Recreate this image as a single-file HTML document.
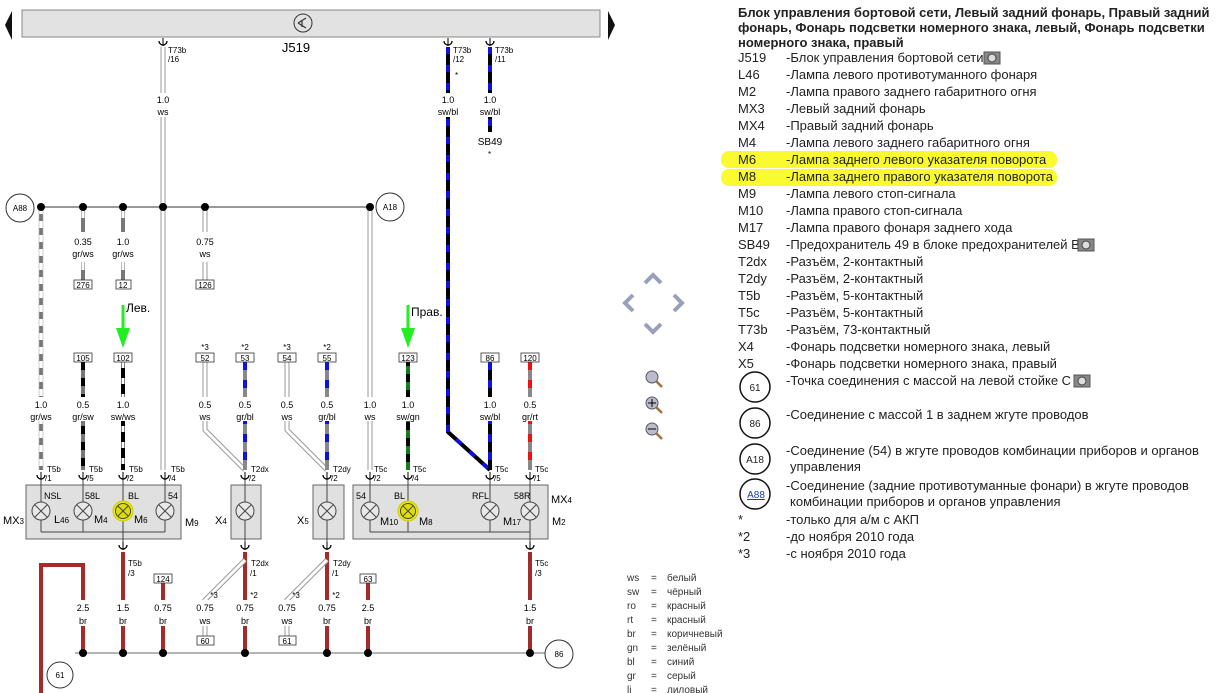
<!DOCTYPE html>
<html><head><meta charset="utf-8"><style>
html,body{margin:0;padding:0;background:#fff;}
svg{display:block;font-family:"Liberation Sans",Arial,sans-serif;}
.s{font-size:9px;fill:#000;text-anchor:middle}
.t{font-size:8px;fill:#000}
.lg{font-size:13px;fill:#222}
.c{font-size:10px;fill:#333}
</style></head><body>
<svg width="1224" height="693" viewBox="0 0 1224 693" xmlns="http://www.w3.org/2000/svg">
<defs>
<g id="lamp"><circle r="9" fill="#e8e8e8" stroke="#444" stroke-width="1"/><path d="M-6,-6L6,6M-6,6L6,-6" stroke="#444" stroke-width="1"/></g>
<g id="lampy"><circle r="10" fill="#e8e816" stroke="#cc0" stroke-width="1"/><circle r="7.5" fill="#dede00" stroke="#444" stroke-width="1"/><path d="M-5,-5L5,5M-5,5L5,-5" stroke="#444" stroke-width="1"/></g>
<g id="con"><path d="M-4,-3 A4,4 0 0 0 4,-3" fill="none" stroke="#000" stroke-width="1.3"/><line x1="0" y1="-6" x2="0" y2="2" stroke="#000" stroke-width="1"/></g>
</defs>

<!-- top bar -->
<rect x="22" y="10" width="578" height="27" fill="#e2e2e2" stroke="#888"/>
<circle cx="303" cy="23" r="9" fill="none" stroke="#333"/>
<path d="M298,23 L306,18 M298,23 L306,28 M302,20 L302,27" stroke="#333" stroke-width="1.2" fill="none"/>
<polygon points="12,11 12,40 5,25" fill="#111"/>
<polygon points="608,11 608,40 615,25" fill="#111"/>
<text x="296" y="52" font-size="13" fill="#000" text-anchor="middle">J519</text>

<!-- connectors on top -->
<use href="#con" x="163" y="44"/><text class="t" x="168" y="53">T73b</text><text class="t" x="168" y="62">/16</text>
<use href="#con" x="448" y="44"/><text class="t" x="453" y="53">T73b</text><text class="t" x="453" y="62">/12</text>
<use href="#con" x="490" y="44"/><text class="t" x="495" y="53">T73b</text><text class="t" x="495" y="62">/11</text>
<text class="t" x="455" y="78">*</text>

<!-- ws wire x=163 full -->
<line x1="163" y1="47" x2="163" y2="470" stroke="#999" stroke-width="5"/>
<line x1="163" y1="47" x2="163" y2="470" stroke="#fff" stroke-width="3"/>
<rect x="150" y="93" width="26" height="24" fill="#fff"/>
<text class="s" x="163" y="103">1.0</text><text class="s" x="163" y="115">ws</text>

<!-- sw/bl main -->
<polyline points="448,47 448,432 490,470" fill="none" stroke="#000" stroke-width="4"/>
<polyline points="448,47 448,432 490,470" fill="none" stroke="#1010e0" stroke-width="4" stroke-dasharray="7 11"/>
<rect x="434" y="93" width="28" height="24" fill="#fff"/>
<text class="s" x="448" y="103">1.0</text><text class="s" x="448" y="115">sw/bl</text>
<line x1="490" y1="47" x2="490" y2="132" stroke="#000" stroke-width="4"/>
<line x1="490" y1="47" x2="490" y2="132" stroke="#1010e0" stroke-width="4" stroke-dasharray="7 11"/>
<rect x="476" y="93" width="28" height="24" fill="#fff"/>
<text class="s" x="490" y="103">1.0</text><text class="s" x="490" y="115">sw/bl</text>
<text x="490" y="145" font-size="10" text-anchor="middle">SB49</text><text class="t" x="488" y="157">*</text>

<!-- bus -->
<line x1="41" y1="207" x2="370" y2="207" stroke="#333" stroke-width="1"/>
<circle cx="20" cy="208" r="14" fill="#fff" stroke="#333"/><text class="t" x="20" y="211" text-anchor="middle">A88</text>
<circle cx="390" cy="207" r="14" fill="#fff" stroke="#333"/><text class="t" x="390" y="210" text-anchor="middle">A18</text>

<!-- x=41 gr/ws -->
<line x1="41" y1="207" x2="41" y2="470" stroke="#777" stroke-width="4"/>
<line x1="41" y1="207" x2="41" y2="470" stroke="#fff" stroke-width="4" stroke-dasharray="7 7"/>
<line x1="39" y1="207" x2="39" y2="470" stroke="#aaa" stroke-width="0.6"/><line x1="43" y1="207" x2="43" y2="470" stroke="#aaa" stroke-width="0.6"/>
<rect x="26" y="397" width="30" height="24" fill="#fff"/>
<text class="s" x="41" y="408">1.0</text><text class="s" x="41" y="420">gr/ws</text>

<!-- x=83 -->
<line x1="83" y1="207" x2="83" y2="232" stroke="#777" stroke-width="4"/><line x1="83" y1="207" x2="83" y2="218" stroke="#fff" stroke-width="3"/>
<text class="s" x="83" y="245">0.35</text><text class="s" x="83" y="257">gr/ws</text>
<line x1="83" y1="262" x2="83" y2="280" stroke="#777" stroke-width="4"/><line x1="83" y1="262" x2="83" y2="270" stroke="#fff" stroke-width="3"/>
<rect x="74" y="280" width="18" height="9" fill="#fff" stroke="#333" stroke-width="0.8"/><text class="t" x="83" y="288" text-anchor="middle">276</text>
<!-- x=123 -->
<line x1="123" y1="207" x2="123" y2="232" stroke="#777" stroke-width="4"/><line x1="123" y1="207" x2="123" y2="218" stroke="#fff" stroke-width="3"/>
<text class="s" x="123" y="245">1.0</text><text class="s" x="123" y="257">gr/ws</text>
<line x1="123" y1="262" x2="123" y2="280" stroke="#777" stroke-width="4"/><line x1="123" y1="262" x2="123" y2="270" stroke="#fff" stroke-width="3"/>
<rect x="116" y="280" width="15" height="9" fill="#fff" stroke="#333" stroke-width="0.8"/><text class="t" x="123" y="288" text-anchor="middle">12</text>
<!-- x=205 top -->
<line x1="205" y1="207" x2="205" y2="232" stroke="#999" stroke-width="5"/><line x1="205" y1="207" x2="205" y2="232" stroke="#fff" stroke-width="3"/>
<text class="s" x="205" y="245">0.75</text><text class="s" x="205" y="257">ws</text>
<line x1="205" y1="262" x2="205" y2="280" stroke="#999" stroke-width="5"/><line x1="205" y1="262" x2="205" y2="280" stroke="#fff" stroke-width="3"/>
<rect x="196" y="280" width="18" height="9" fill="#fff" stroke="#333" stroke-width="0.8"/><text class="t" x="205" y="288" text-anchor="middle">126</text>
<!-- x=370 -->
<line x1="370" y1="207" x2="370" y2="470" stroke="#999" stroke-width="5"/><line x1="370" y1="207" x2="370" y2="470" stroke="#fff" stroke-width="3"/>
<rect x="356" y="397" width="28" height="24" fill="#fff"/>
<text class="s" x="370" y="408">1.0</text><text class="s" x="370" y="420">ws</text>

<g fill="#000"><circle cx="41" cy="207" r="4"/><circle cx="83" cy="207" r="4"/><circle cx="123" cy="207" r="4"/><circle cx="163" cy="207" r="4"/><circle cx="205" cy="207" r="4"/><circle cx="370" cy="207" r="4"/></g>

<!-- green arrows -->
<line x1="123" y1="305" x2="123" y2="330" stroke="#22ee22" stroke-width="3"/><polygon points="116,328 130,328 123,348" fill="#22ee22"/>
<text x="126" y="312" font-size="12">Лев.</text>
<line x1="408" y1="305" x2="408" y2="330" stroke="#22ee22" stroke-width="3"/><polygon points="401,328 415,328 408,348" fill="#22ee22"/>
<text x="411" y="316" font-size="12">Прав.</text>

<!-- mid wires -->
<!-- 83 gr/sw -->
<line x1="83" y1="362" x2="83" y2="470" stroke="#777" stroke-width="4"/><line x1="83" y1="362" x2="83" y2="470" stroke="#000" stroke-width="4" stroke-dasharray="8 8"/>
<!-- 123 sw/ws -->
<line x1="123" y1="362" x2="123" y2="470" stroke="#000" stroke-width="4"/><line x1="123" y1="362" x2="123" y2="470" stroke="#fff" stroke-width="3" stroke-dasharray="6 10"/>
<!-- 205 ws diag -->
<polyline points="205,362 205,430 245,470" fill="none" stroke="#999" stroke-width="5"/><polyline points="205,362 205,430 245,470" fill="none" stroke="#fff" stroke-width="3"/>
<polyline points="287,362 287,430 327,470" fill="none" stroke="#999" stroke-width="5"/><polyline points="287,362 287,430 327,470" fill="none" stroke="#fff" stroke-width="3"/>
<!-- 245 gr/bl -->
<line x1="245" y1="362" x2="245" y2="470" stroke="#888" stroke-width="4"/><line x1="245" y1="362" x2="245" y2="470" stroke="#1010e0" stroke-width="4" stroke-dasharray="8 10"/>
<line x1="327" y1="362" x2="327" y2="470" stroke="#888" stroke-width="4"/><line x1="327" y1="362" x2="327" y2="470" stroke="#1010e0" stroke-width="4" stroke-dasharray="8 10"/>
<!-- 408 sw/gn -->
<line x1="408" y1="362" x2="408" y2="470" stroke="#000" stroke-width="4"/><line x1="408" y1="362" x2="408" y2="470" stroke="#1a7a1a" stroke-width="4" stroke-dasharray="8 8" stroke-dashoffset="-4"/>
<!-- 490 sw/bl -->
<line x1="490" y1="362" x2="490" y2="470" stroke="#000" stroke-width="4"/><line x1="490" y1="362" x2="490" y2="470" stroke="#1010e0" stroke-width="4" stroke-dasharray="8 10"/>
<!-- 530 gr/rt -->
<line x1="530" y1="362" x2="530" y2="470" stroke="#888" stroke-width="4"/><line x1="530" y1="362" x2="530" y2="470" stroke="#f01010" stroke-width="4" stroke-dasharray="8 10"/>

<!-- mid label backgrounds & labels -->
<g fill="#fff">
<rect x="68" y="397" width="30" height="24"/><rect x="108" y="397" width="30" height="24"/><rect x="192" y="397" width="26" height="24"/><rect x="232" y="397" width="26" height="24"/><rect x="274" y="397" width="26" height="24"/><rect x="314" y="397" width="26" height="24"/><rect x="393" y="397" width="30" height="24"/><rect x="475" y="397" width="30" height="24"/><rect x="516" y="397" width="28" height="24"/>
</g>
<text class="s" x="83" y="408">0.5</text><text class="s" x="83" y="420">gr/sw</text>
<text class="s" x="123" y="408">1.0</text><text class="s" x="123" y="420">sw/ws</text>
<text class="s" x="205" y="408">0.5</text><text class="s" x="205" y="420">ws</text>
<text class="s" x="245" y="408">0.5</text><text class="s" x="245" y="420">gr/bl</text>
<text class="s" x="287" y="408">0.5</text><text class="s" x="287" y="420">ws</text>
<text class="s" x="327" y="408">0.5</text><text class="s" x="327" y="420">gr/bl</text>
<text class="s" x="408" y="408">1.0</text><text class="s" x="408" y="420">sw/gn</text>
<text class="s" x="490" y="408">1.0</text><text class="s" x="490" y="420">sw/bl</text>
<text class="s" x="530" y="408">0.5</text><text class="s" x="530" y="420">gr/rt</text>

<!-- numbered boxes mid -->
<g font-size="8" text-anchor="middle">
<rect x="74" y="353" width="18" height="9" fill="#fff" stroke="#333" stroke-width="0.8"/><text x="83" y="361">105</text>
<rect x="114" y="353" width="18" height="9" fill="#fff" stroke="#333" stroke-width="0.8"/><text x="123" y="361">102</text>
<rect x="196" y="353" width="18" height="9" fill="#fff" stroke="#333" stroke-width="0.8"/><text x="205" y="361">52</text>
<rect x="236" y="353" width="18" height="9" fill="#fff" stroke="#333" stroke-width="0.8"/><text x="245" y="361">53</text>
<rect x="278" y="353" width="18" height="9" fill="#fff" stroke="#333" stroke-width="0.8"/><text x="287" y="361">54</text>
<rect x="318" y="353" width="18" height="9" fill="#fff" stroke="#333" stroke-width="0.8"/><text x="327" y="361">55</text>
<rect x="399" y="353" width="18" height="9" fill="#fff" stroke="#333" stroke-width="0.8"/><text x="408" y="361">123</text>
<rect x="481" y="353" width="18" height="9" fill="#fff" stroke="#333" stroke-width="0.8"/><text x="490" y="361">86</text>
<rect x="521" y="353" width="18" height="9" fill="#fff" stroke="#333" stroke-width="0.8"/><text x="530" y="361">120</text>
<text x="205" y="350">*3</text><text x="245" y="350">*2</text><text x="287" y="350">*3</text><text x="327" y="350">*2</text>
</g>

<!-- boxes -->
<rect x="26" y="485" width="155" height="54" fill="#e0e0e0" stroke="#666"/>
<rect x="231" y="485" width="30" height="54" fill="#e0e0e0" stroke="#666"/>
<rect x="313" y="485" width="31" height="54" fill="#e0e0e0" stroke="#666"/>
<rect x="353" y="485" width="195" height="54" fill="#e0e0e0" stroke="#666"/>
<g stroke="#444" stroke-width="1">
<line x1="41" y1="532" x2="165" y2="532"/><line x1="370" y1="532" x2="530" y2="532"/>
<line x1="41" y1="478" x2="41" y2="532"/><line x1="83" y1="478" x2="83" y2="532"/><line x1="123" y1="478" x2="123" y2="545"/><line x1="165" y1="478" x2="165" y2="532"/>
<line x1="245" y1="478" x2="245" y2="545"/><line x1="327" y1="478" x2="327" y2="545"/>
<line x1="370" y1="478" x2="370" y2="532"/><line x1="408" y1="478" x2="408" y2="532"/><line x1="490" y1="478" x2="490" y2="532"/><line x1="530" y1="478" x2="530" y2="545"/>
</g>
<use href="#lamp" x="41" y="511"/><use href="#lamp" x="83" y="511"/><use href="#lampy" x="123" y="511"/><use href="#lamp" x="165" y="511"/>
<use href="#lamp" x="245" y="511"/><use href="#lamp" x="327" y="511"/>
<use href="#lamp" x="370" y="511"/><use href="#lampy" x="408" y="511"/><use href="#lamp" x="490" y="511"/><use href="#lamp" x="530" y="511"/>
<g font-size="9">
<text x="44" y="499">NSL</text><text x="85" y="499">58L</text><text x="128" y="499">BL</text><text x="168" y="499">54</text>
<text x="54" y="523" font-size="11">L<tspan font-size="8">46</tspan></text><text x="94" y="523" font-size="11">M<tspan font-size="8">4</tspan></text><text x="134" y="523" font-size="11">M<tspan font-size="8">6</tspan></text><text x="185" y="526" font-size="11">M<tspan font-size="8">9</tspan></text>
<text x="3" y="524" font-size="11">MX<tspan font-size="8">3</tspan></text>
<text x="215" y="524" font-size="11">X<tspan font-size="8">4</tspan></text>
<text x="297" y="524" font-size="11">X<tspan font-size="8">5</tspan></text>
<text x="356" y="499">54</text><text x="394" y="499">BL</text><text x="472" y="499">RFL</text><text x="514" y="499">58R</text>
<text x="551" y="503" font-size="11">MX<tspan font-size="8">4</tspan></text>
<text x="380" y="525" font-size="11">M<tspan font-size="8">10</tspan></text><text x="419" y="525" font-size="11">M<tspan font-size="8">8</tspan></text><text x="503" y="525" font-size="11">M<tspan font-size="8">17</tspan></text><text x="552" y="525" font-size="11">M<tspan font-size="8">2</tspan></text>
</g>

<!-- connectors at box top -->
<g>
<use href="#con" x="41" y="478"/><use href="#con" x="83" y="478"/><use href="#con" x="123" y="478"/><use href="#con" x="165" y="478"/>
<use href="#con" x="245" y="478"/><use href="#con" x="327" y="478"/>
<use href="#con" x="370" y="478"/><use href="#con" x="408" y="478"/><use href="#con" x="490" y="478"/><use href="#con" x="530" y="478"/>
<use href="#con" x="123" y="548"/><use href="#con" x="245" y="548"/><use href="#con" x="327" y="548"/><use href="#con" x="530" y="548"/>
</g>
<g class="t" font-size="7.5">
<text x="47" y="472">T5b</text><text x="45" y="481">/1</text>
<text x="89" y="472">T5b</text><text x="87" y="481">/5</text>
<text x="129" y="472">T5b</text><text x="127" y="481">/2</text>
<text x="171" y="472">T5b</text><text x="169" y="481">/4</text>
<text x="251" y="472">T2dx</text><text x="249" y="481">/2</text>
<text x="333" y="472">T2dy</text><text x="331" y="481">/2</text>
<text x="374" y="472">T5c</text><text x="374" y="481">/2</text>
<text x="413" y="472">T5c</text><text x="412" y="481">/4</text>
<text x="495" y="472">T5c</text><text x="494" y="481">/5</text>
<text x="535" y="472">T5c</text><text x="534" y="481">/1</text>
<text x="128" y="566">T5b</text><text x="128" y="576">/3</text>
<text x="251" y="566">T2dx</text><text x="250" y="576">/1</text>
<text x="333" y="566">T2dy</text><text x="332" y="576">/1</text>
<text x="535" y="566">T5c</text><text x="535" y="576">/3</text>
</g>

<!-- bottom wires -->
<g stroke="#a52a2a" stroke-width="4" fill="none">
<polyline points="41,693 41,565 83,565 83,653"/>
<line x1="123" y1="552" x2="123" y2="653"/>
<line x1="163" y1="583" x2="163" y2="653"/>
<line x1="245" y1="552" x2="245" y2="653"/>
<line x1="327" y1="552" x2="327" y2="653"/>
<line x1="368" y1="583" x2="368" y2="653"/>
<line x1="530" y1="552" x2="530" y2="653"/>
</g>
<polyline points="245,560 205,600 205,636" fill="none" stroke="#999" stroke-width="5"/><polyline points="245,560 205,600 205,636" fill="none" stroke="#fff" stroke-width="3"/>
<polyline points="327,560 287,600 287,636" fill="none" stroke="#999" stroke-width="5"/><polyline points="327,560 287,600 287,636" fill="none" stroke="#fff" stroke-width="3"/>
<g fill="#fff">
<rect x="70" y="600" width="26" height="26"/><rect x="110" y="600" width="26" height="26"/><rect x="150" y="600" width="26" height="26"/><rect x="192" y="600" width="26" height="26"/><rect x="232" y="600" width="26" height="26"/><rect x="274" y="600" width="26" height="26"/><rect x="314" y="600" width="26" height="26"/><rect x="355" y="600" width="26" height="26"/><rect x="517" y="600" width="26" height="26"/>
</g>
<g class="s">
<text x="83" y="611" class="s">2.5</text><text x="83" y="624" class="s">br</text>
<text x="123" y="611" class="s">1.5</text><text x="123" y="624" class="s">br</text>
<text x="163" y="611" class="s">0.75</text><text x="163" y="624" class="s">br</text>
<text x="205" y="611" class="s">0.75</text><text x="205" y="624" class="s">ws</text>
<text x="245" y="611" class="s">0.75</text><text x="245" y="624" class="s">br</text>
<text x="287" y="611" class="s">0.75</text><text x="287" y="624" class="s">ws</text>
<text x="327" y="611" class="s">0.75</text><text x="327" y="624" class="s">br</text>
<text x="368" y="611" class="s">2.5</text><text x="368" y="624" class="s">br</text>
<text x="530" y="611" class="s">1.5</text><text x="530" y="624" class="s">br</text>
</g>
<g font-size="8" text-anchor="middle">
<rect x="154" y="574" width="18" height="9" fill="#fff" stroke="#333" stroke-width="0.8"/><text x="163" y="582">124</text>
<rect x="360" y="574" width="16" height="9" fill="#fff" stroke="#333" stroke-width="0.8"/><text x="368" y="582">63</text>
<rect x="197" y="636" width="17" height="9" fill="#fff" stroke="#333" stroke-width="0.8"/><text x="205" y="644">60</text>
<rect x="279" y="636" width="17" height="9" fill="#fff" stroke="#333" stroke-width="0.8"/><text x="287" y="644">61</text>
<text x="214" y="598">*3</text><text x="254" y="598">*2</text><text x="296" y="598">*3</text><text x="336" y="598">*2</text>
</g>
<line x1="75" y1="653" x2="545" y2="653" stroke="#888" stroke-width="1.2"/>
<g fill="#000"><circle cx="83" cy="653" r="4"/><circle cx="123" cy="653" r="4"/><circle cx="163" cy="653" r="4"/><circle cx="245" cy="653" r="4"/><circle cx="327" cy="653" r="4"/><circle cx="368" cy="653" r="4"/><circle cx="530" cy="653" r="4"/></g>
<circle cx="559" cy="654" r="14" fill="#fff" stroke="#333"/><text class="t" x="559" y="657" text-anchor="middle">86</text>
<circle cx="60" cy="675" r="13" fill="#fff" stroke="#333"/><text class="t" x="60" y="678" text-anchor="middle">61</text>

<!-- nav icons -->
<g fill="none" stroke="#9aa0bb" stroke-width="4" stroke-linecap="butt">
<polyline points="645,283 653,275 661,283"/>
<polyline points="633,295 625,303 633,311"/>
<polyline points="674,295 682,303 674,311"/>
<polyline points="645,324 653,332 661,324"/>
</g>
<g>
<circle cx="652" cy="377" r="6" fill="#bbc" stroke="#556" stroke-width="1"/><line x1="656" y1="381" x2="662" y2="387" stroke="#a07040" stroke-width="2.5"/>
<circle cx="652" cy="403" r="6" fill="#bbc" stroke="#556" stroke-width="1"/><line x1="656" y1="407" x2="662" y2="413" stroke="#a07040" stroke-width="2.5"/><path d="M648,403h8M652,399v8" stroke="#000" stroke-width="1"/>
<circle cx="652" cy="429" r="6" fill="#bbc" stroke="#556" stroke-width="1"/><line x1="656" y1="433" x2="662" y2="439" stroke="#a07040" stroke-width="2.5"/><path d="M648,429h8" stroke="#000" stroke-width="1"/>
</g>

<!-- color legend -->
<g class="c">
<text x="627" y="581">ws</text><text x="651" y="581">=</text><text x="667" y="581">белый</text>
<text x="627" y="595">sw</text><text x="651" y="595">=</text><text x="667" y="595">чёрный</text>
<text x="627" y="609">ro</text><text x="651" y="609">=</text><text x="667" y="609">красный</text>
<text x="627" y="623">rt</text><text x="651" y="623">=</text><text x="667" y="623">красный</text>
<text x="627" y="637">br</text><text x="651" y="637">=</text><text x="667" y="637">коричневый</text>
<text x="627" y="651">gn</text><text x="651" y="651">=</text><text x="667" y="651">зелёный</text>
<text x="627" y="665">bl</text><text x="651" y="665">=</text><text x="667" y="665">синий</text>
<text x="627" y="679">gr</text><text x="651" y="679">=</text><text x="667" y="679">серый</text>
<text x="627" y="693">li</text><text x="651" y="693">=</text><text x="667" y="693">лиловый</text>
</g>

<!-- legend -->
<rect x="721" y="151" width="336" height="17" rx="8" fill="#fafa30"/>
<rect x="721" y="169" width="336" height="17" rx="8" fill="#fafa30"/>
<g font-size="13" font-weight="bold" fill="#222">
<text x="738" y="17">Блок управления бортовой сети, Левый задний фонарь, Правый задний</text>
<text x="738" y="32">фонарь, Фонарь подсветки номерного знака, левый, Фонарь подсветки</text>
<text x="738" y="47">номерного знака, правый</text>
</g>
<g class="lg">
<text x="738" y="62">J519</text><text x="786" y="62">-Блок управления бортовой сети</text>
<text x="738" y="79">L46</text><text x="786" y="79">-Лампа левого противотуманного фонаря</text>
<text x="738" y="96">M2</text><text x="786" y="96">-Лампа правого заднего габаритного огня</text>
<text x="738" y="113">MX3</text><text x="786" y="113">-Левый задний фонарь</text>
<text x="738" y="130">MX4</text><text x="786" y="130">-Правый задний фонарь</text>
<text x="738" y="147">M4</text><text x="786" y="147">-Лампа левого заднего габаритного огня</text>
<text x="738" y="164">M6</text><text x="786" y="164">-Лампа заднего левого указателя поворота</text>
<text x="738" y="181">M8</text><text x="786" y="181">-Лампа заднего правого указателя поворота</text>
<text x="738" y="198">M9</text><text x="786" y="198">-Лампа левого стоп-сигнала</text>
<text x="738" y="215">M10</text><text x="786" y="215">-Лампа правого стоп-сигнала</text>
<text x="738" y="232">M17</text><text x="786" y="232">-Лампа правого фонаря заднего хода</text>
<text x="738" y="249">SB49</text><text x="786" y="249">-Предохранитель 49 в блоке предохранителей B</text>
<text x="738" y="266">T2dx</text><text x="786" y="266">-Разъём, 2-контактный</text>
<text x="738" y="283">T2dy</text><text x="786" y="283">-Разъём, 2-контактный</text>
<text x="738" y="300">T5b</text><text x="786" y="300">-Разъём, 5-контактный</text>
<text x="738" y="317">T5c</text><text x="786" y="317">-Разъём, 5-контактный</text>
<text x="738" y="334">T73b</text><text x="786" y="334">-Разъём, 73-контактный</text>
<text x="738" y="351">X4</text><text x="786" y="351">-Фонарь подсветки номерного знака, левый</text>
<text x="738" y="368">X5</text><text x="786" y="368">-Фонарь подсветки номерного знака, правый</text>
<text x="786" y="385">-Точка соединения с массой на левой стойке C</text>
<text x="786" y="419">-Соединение с массой 1 в заднем жгуте проводов</text>
<text x="786" y="455">-Соединение (54) в жгуте проводов комбинации приборов и органов</text>
<text x="790" y="471">управления</text>
<text x="786" y="490">-Соединение (задние противотуманные фонари) в жгуте проводов</text>
<text x="790" y="506">комбинации приборов и органов управления</text>
<text x="738" y="524">*</text><text x="786" y="524">-только для а/м с АКП</text>
<text x="738" y="541">*2</text><text x="786" y="541">-до ноября 2010 года</text>
<text x="738" y="558">*3</text><text x="786" y="558">-с ноября 2010 года</text>
</g>
<g fill="none" stroke="#111" stroke-width="1.5">
<circle cx="755" cy="387" r="15"/><circle cx="755" cy="423" r="15"/><circle cx="755" cy="459" r="15"/><circle cx="755" cy="494" r="15"/>
</g>
<g font-size="10" text-anchor="middle" fill="#222">
<text x="755" y="391">61</text><text x="755" y="427">86</text><text x="755" y="463">A18</text><text x="756" y="498" fill="#1a3aaa" text-decoration="underline">A88</text>
</g>
<!-- camera icons -->
<g>
<rect x="984" y="52" width="16" height="12" fill="#888" stroke="#555"/><circle cx="992" cy="58" r="4" fill="#ddd" stroke="#444"/>
<rect x="1078" y="239" width="16" height="12" fill="#888" stroke="#555"/><circle cx="1086" cy="245" r="4" fill="#ddd" stroke="#444"/>
<rect x="1074" y="375" width="16" height="12" fill="#888" stroke="#555"/><circle cx="1082" cy="381" r="4" fill="#ddd" stroke="#444"/>
</g>
</svg>
</body></html>
